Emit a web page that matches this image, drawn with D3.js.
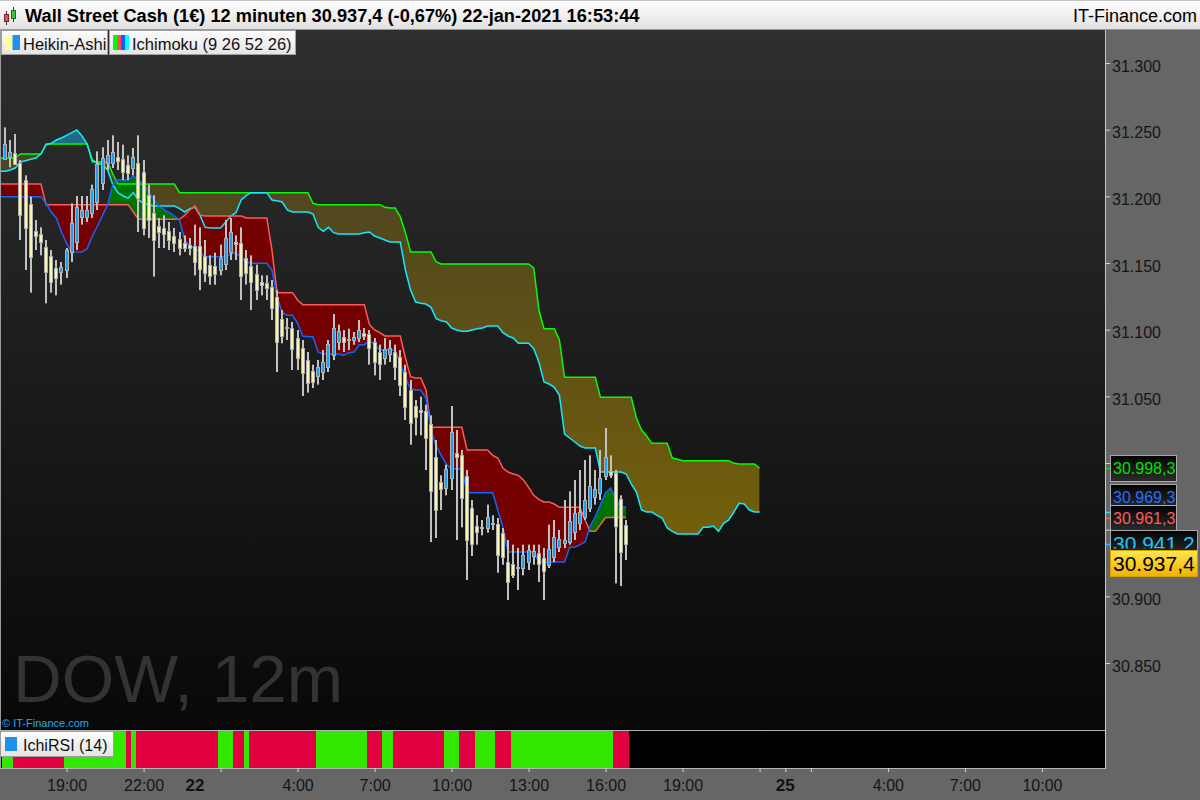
<!DOCTYPE html>
<html><head><meta charset="utf-8">
<script src="https://cdnjs.cloudflare.com/ajax/libs/d3/7.8.5/d3.min.js"></script>
<style>
body{margin:0;background:#fff;overflow:hidden}
svg{display:block;font-family:"Liberation Sans",Arial,sans-serif}
</style>
</head><body>
<svg id="c" width="1200" height="800"></svg>
<script>
// ---------------- DATA ----------------
const haOpen = [31230,31232,31235,31227,31214.5,31196.5,31176,31174,31164,31157.5,
 31148.5,31145,31147,31160,31168,31187,31187,31190,31198,31212,
 31227,31227,31232,31230,31226,31223.5,31227,31220.5,31203,31190,
 31180,31178.5,31176,31172.5,31170,31167,31166,31165,31165,31157.5,
 31151,31150,31147,31151.5,31160.5,31168,31167,31156,31150,31144,
 31138,31137,31134,31127,31110,31104,31103.5,31096,31088.5,31079.5,
 31071,31067,31070.5,31074,31083,31093,31097,31095,31095,31096,
 31100,31099,31093,31085.5,31081,31084,31085.5,31082,31070.5,31057,
 31045,31042,31041,31031.5,31007,30988,30984,30991,31010,31008,
 30992.5,30968.5,30955,30953,30953.5,30957,30956.5,30950,30928,30926.5,
 30923,30923.5,30928,30932,30935,30931,30926,30932,30939,30942,
 30943,30950.5,30957,30962,30968.5,30977,30980,30992.5,30996,30995,
 30975,30956];
const haHigh = [31254,31244.5,31249,31229.5,31218,31202,31184.5,31179,31169.5,31162,
 31154.5,31153,31163.5,31197,31202.5,31202.5,31202.5,31211,31236,31239,
 31244.5,31248,31243,31241,31233,31238.5,31248,31229.5,31211,31203,
 31186,31188,31183,31178.5,31175.5,31173,31171,31181,31179,31169.5,
 31158,31160,31166,31184.5,31186,31173,31179,31162,31158,31151,
 31143,31143,31139.5,31132,31117,31111,31108,31102,31094.5,31085.5,
 31076,31079.5,31087,31094.5,31114,31106,31102,31103,31100.5,31109.5,
 31103.5,31102,31096,31091,31096,31094.5,31091,31087,31076,31064.5,
 31049.5,31052,31046,31038,31019.5,30993,31001,31045,31027,31012,
 30997,30974.5,30963,30959.5,30971,30963,30961,30953.5,30944.5,30941,
 30938.5,30941,30941,30941,30941,30938.5,30956,30959.5,30952,30974.5,
 30981,30989.5,30997,31004.5,31008,30997,31012,31028.5,31008,30997,
 30978,30959.5];
const haLow = [31229.5,31224,31226,31169.5,31147,31130,31162,31158,31122,31130,
 31128,31136,31141,31153,31162,31181,31183,31186,31192,31207,
 31222,31223.5,31222,31214.5,31214.5,31218,31175.5,31173,31171,31142,
 31163.5,31163.5,31162,31160.5,31158,31160.5,31158,31143,31132,31138,
 31136,31136,31143,31147,31154.5,31154.5,31124.5,31136,31117,31124.5,
 31128,31124.5,31109.5,31070.5,31092,31094.5,31072,31072,31052.5,31055,
 31058.5,31061,31064.5,31070.5,31079.5,31087,31085.5,31087,31091,31093,
 31094.5,31076,31068,31064.5,31076,31078,31064.5,31052.5,31034.5,31016,
 31023,31023,30997,30943,30946,30967,30978,30982,30944.5,30954,
 30914.5,30932.5,30941,30948,30950,30952,30920,30926,30899.5,30916,
 30907,30918,30922,30926,30913,30899.5,30923.5,30928,30935.5,30938.5,
 30941,30944.5,30952,30959.5,30965.5,30971,30974.5,30989.5,30991,30912,
 30910,30929.5];
const haClose = [31241.5,31235.5,31227,31188,31178.5,31157,31172,31168,31145,31138,
 31141,31149,31162,31182,31194,31192,31192,31208,31226.5,31231,
 31233,31235.5,31229,31220.5,31220,31232,31201,31178.5,31184.5,31169.5,
 31175.5,31174,31169,31167,31163.5,31163,31163.5,31153,31148,31145,
 31143,31144,31156,31171,31175.5,31166.5,31142.5,31145,31138,31132,
 31136,31133.5,31118.5,31093,31097,31103,31088,31081,31070,31062,
 31063,31074,31078,31091.5,31103.5,31101,31093,31094,31097,31102,
 31098,31088.5,31078,31076.5,31088,31088.5,31074,31061,31044,31032,
 31037,31040.5,31021,30981,30967,30983,30998,31025.5,31007,30976,
 30944.5,30941.5,30950.5,30954,30962,30956,30933,30932,30913,30918,
 30924,30933,30937,30936,30927,30921,30938,30947,30945,30944.5,
 30959,30965,30965.5,30974.5,30985,30983,30991,31007,30993,30955,
 30935,30941.5];

const tenkan = [31202,31202,31202,31202,31202,31202,31202,31202,31197,31190.5,
 31186,31175.5,31167,31160.5,31160.5,31160.5,31163,31172.5,31180,31188,
 31196,31211,31214.5,31214.5,31214.5,31217.5,31214.5,31211,31205.5,31199.5,
 31195,31192,31190,31187.5,31184.5,31169.5,31165,31163.5,31160,31157,
 31157,31157,31157,31157,31159,31160,31156,31153,31152,31152,
 31152,31152,31147,31127,31115,31113,31113,31107,31097.5,31097,
 31097,31085.5,31084,31084,31084,31084,31083,31085,31085.5,31091,
 31091,31094,31091,31087,31087,31087,31087,31077,31066,31058,
 31057,31057,31051,31027,31015,31008,31001,30998,30998,30998,
 30980,30980,30980,30980,30980,30980,30967,30954,30935.5,30935.5,
 30935.5,30935.5,30935.5,30935.5,30928,30928,30928,30928,30928,30928,
 30939,30939,30941,30943,30955,30962,30971,30980,30983.5,30974.5,
 30969.3,30969.3];
const kijun = [31211.5,31211.5,31211.5,31211.5,31211.5,31211.5,31211.5,31211.5,31196,31196,
 31196,31196,31196,31196,31196,31196,31196,31196,31196,31196,
 31196,31196,31196,31196,31196,31190.5,31185,31185,31185,31185,
 31185,31185,31185,31185,31185,31188,31192,31195,31188,31187.5,
 31187.5,31187.5,31187.5,31187.5,31187.5,31187.5,31187.5,31186,31186,31186,
 31186,31186,31162,31130,31130,31130,31130,31124.5,31121,31121,
 31121,31121,31121,31121,31121,31121,31121,31121,31121,31121,
 31121,31106,31102,31100,31097.5,31097.5,31097.5,31097.5,31081,31067,
 31066,31066,31057,31029,31029,31029,31029,31029,31029,31029,
 31012,31012,31012,31012,31012,31008,31006,30998.5,30995.5,30994,
 30993,30989.5,30984,30978,30975,30973,30973,30971.5,30969,30969,
 30969,30969,30969,30959.5,30951,30951,30956,30961.3,30961.3,30961.3,
 30961.3,30961.3];
const senkouB = [31231,31231,31231,31234,31234,31234,31234,31234,31241.5,31241.5,
 31241.5,31241.5,31241.5,31241.5,31241.5,31241.5,31241.5,31228,31228,31228,
 31228,31219,31211.5,31211.5,31211.5,31211.5,31211.5,31211.5,31211.5,31211.5,
 31211.5,31211.5,31211.5,31211.5,31205,31205,31205,31205,31205,31205,
 31205,31205,31205,31205,31205,31205,31205,31205,31205,31205,
 31205,31205,31205,31205,31205,31205,31205,31205,31205,31205,
 31197,31196,31196,31196,31196,31196,31196,31196,31196,31196,
 31196,31196,31196,31196,31194,31193.5,31193.5,31187,31175,31160.5,
 31160.5,31160.5,31160.5,31160.5,31153,31151.5,31151.5,31151.5,31151.5,31151.5,
 31151.5,31151.5,31151.5,31151.5,31151.5,31151.5,31151.5,31151.5,31151.5,31151.5,
 31151.5,31151.5,31151.5,31148.5,31117,31103,31103,31103,31094.5,31066.5,
 31066.5,31066.5,31066.5,31066.5,31066.5,31066.5,31051.5,31051.5,31051.5,31051.5,
 31051.5,31051.5,31051.5,31036,31027,31022.5,31017,31017,31017,31017,
 31006,31005,31004,31004,31004,31004,31004,31004,31004,31004,
 31004,31004,31002,31001.5,31001.5,31001.5,31001.5,30998.3];
const senkouA = [31221,31222,31223.5,31228,31229,31230,31231,31234,31241,31242,
 31244.5,31246,31248,31250,31252,31247.5,31241.5,31229.5,31227,31226,
 31222,31211,31205,31202.5,31201,31205,31199.5,31197,31196,31195,
 31195,31195,31195,31195,31193,31190.5,31193,31194,31188,31179,
 31178.5,31178.5,31178.5,31183,31187.5,31190,31199.5,31203,31205,31205,
 31205,31205,31199.5,31199,31198,31192,31190.5,31190.5,31190.5,31190.5,
 31189,31179,31176,31179,31175,31174,31174,31174,31174,31174,
 31175,31175.5,31172.5,31171,31169.5,31168,31168,31168,31147,31132,
 31123,31122,31121.5,31119,31110.5,31109,31108,31103.5,31102,31101,
 31101,31102,31103,31103.5,31105,31105,31105,31100,31097.5,31096,
 31092,31092,31092,31088,31078,31063,31061.5,31059,31053,31024,
 31021,31018,31015,31013.5,31013.5,31013.5,30995.5,30995.5,30995.5,30995.5,
 30995.5,30994,30986.5,30980.5,30967,30965.5,30965.5,30963,30961,30953.5,
 30951,30949,30949,30949,30949,30949,30954,30954,30955,30951,
 30957,30959.5,30965.5,30972,30971.5,30967,30965.5,30965.5];

// IchiRSI state per bar: U = bullish (green), D = bearish (red)
const rsiState = ("UU DDDDDDDDDD UUUUUUUUUUUU D U DDDDDDDDDDDDDDDD UUU DD U " +
  "DDDDDDDDDDDDD UUUUUUUUUU DDD UU DDDDDDDDDD UUU DDD UUUU DDD " +
  "UUUUUUUUUUUUUUUUUUUU DDD").replace(/ /g, "").split("");

const priceTicks = [31300, 31250, 31200, 31150, 31100, 31050, 31000, 30950, 30900, 30850];
const hiddenPriceLabels = [31000, 30950]; // covered by the price tags in the original
const timeTickIdx = [12, 27, 42, 57, 72, 87, 102, 117, 132, 147, 152, 157, 172, 187, 202];
const timeLabelIdx = [12, 27, 57, 72, 87, 102, 117, 132, 172, 187, 202];
const timeLabelText = ["19:00", "22:00", "4:00", "7:00", "10:00", "13:00", "16:00", "19:00", "4:00", "7:00", "10:00"];
const dayLabelIdx = [37, 152];
const dayLabelText = ["22", "25"];

const tagValues = [30998.3, 30969.3, 30961.3, 30941.2, 30937.4];
const tagTexts = ["30.998,3", "30.969,3", "30.961,3", "30.941,2", "30.937,4"];
const tagColors = ["#00e000", "#2a6cff", "#ff5b5b", "#18c8ff", "#000000"];

const titleText = "Wall Street Cash (1€) 12 minuten 30.937,4 (-0,67%) 22-jan-2021 16:53:44";

// ---------------- SCALES ----------------
const x = d3.scaleLinear().domain([0, 147]).range([5, 759.6]);
const y = d3.scaleLinear().domain([30850, 31300]).range([666, 66]);
const bw = x(1) - x(0);

const svg = d3.select("#c");
const defs = svg.append("defs");
function vgrad(id, y1, y2, c1, c2, bbox) {
  const g = defs.append("linearGradient").attr("id", id)
    .attr("x1", 0).attr("x2", 0).attr("y1", y1).attr("y2", y2);
  if (!bbox) g.attr("gradientUnits", "userSpaceOnUse");
  g.append("stop").attr("offset", 0).attr("stop-color", c1);
  g.append("stop").attr("offset", 1).attr("stop-color", c2);
}
vgrad("bgGrad", 30, 730, "#2f2f2f", "#080808");
vgrad("hdrGrad", 0, 30, "#ffffff", "#e0e0e0");
vgrad("kumoGrad", 130, 540, "#4b4222", "#735f0b");
vgrad("legGrad", 0, 1, "#fdfdfd", "#e4e4e4", true);
vgrad("tagGrad", 0, 1, "#040404", "#2c2c2c", true);
vgrad("goldGrad", 0, 1, "#ffe650", "#f0b000", true);

defs.append("clipPath").attr("id", "plotClip").append("rect")
  .attr("x", 0).attr("y", 30).attr("width", 1105).attr("height", 700);

// series -> points, with the first value carried to the left plot edge
const pts = arr => [[0, arr[0]]].concat(arr.map((v, i) => [x(i), v]));
function aboveClip(id, arr) {
  const a = d3.area().x(d => d[0]).y0(30).y1(d => y(d[1]));
  defs.append("clipPath").attr("id", id).append("path").attr("d", a(pts(arr)));
}
aboveClip("abvA", senkouA);
aboveClip("abvB", senkouB);
aboveClip("abvT", tenkan);
aboveClip("abvK", kijun);
const toBottom = d3.area().x(d => d[0]).y0(d => y(d[1])).y1(730);
const line = d3.line().x(d => d[0]).y(d => y(d[1]));

// ---------------- LAYOUT BACKGROUNDS ----------------
svg.append("rect").attr("width", 1200).attr("height", 800).attr("fill", "#666");
svg.append("rect").attr("x", 0).attr("y", 30).attr("width", 1105).attr("height", 700).attr("fill", "url(#bgGrad)");

// header
svg.append("rect").attr("x", 0).attr("y", 0).attr("width", 1200).attr("height", 30).attr("fill", "url(#hdrGrad)");
svg.append("line").attr("x1", 0).attr("x2", 1200).attr("y1", 29.5).attr("y2", 29.5).attr("stroke", "#9a9a9a");
svg.append("line").attr("x1", 0).attr("x2", 1200).attr("y1", 0.5).attr("y2", 0.5).attr("stroke", "#c4c4c4");
const ic = svg.append("g");
ic.append("line").attr("x1", 6.5).attr("x2", 6.5).attr("y1", 11).attr("y2", 25).attr("stroke", "#333");
ic.append("rect").attr("x", 4.5).attr("y", 14.5).attr("width", 4).attr("height", 7).attr("fill", "#e25252").attr("stroke", "#7a2020");
ic.append("line").attr("x1", 13.5).attr("x2", 13.5).attr("y1", 7).attr("y2", 22).attr("stroke", "#333");
ic.append("rect").attr("x", 11.5).attr("y", 10.5).attr("width", 4).attr("height", 8).attr("fill", "#3cc83c").attr("stroke", "#1e6a1e");
const title = svg.append("text").attr("x", 25).attr("y", 22).attr("font-size", 18)
  .attr("font-weight", "bold").attr("fill", "#000").text(titleText);
const tl = title.node().getComputedTextLength();
if (tl > 0) title.attr("font-size", 18 * 615 / tl);
svg.append("text").attr("x", 1197).attr("y", 22).attr("text-anchor", "end")
  .attr("font-size", 18).attr("fill", "#000").text("IT-Finance.com");

// ---------------- MAIN PLOT ----------------
const g = svg.append("g").attr("clip-path", "url(#plotClip)");
g.append("text").attr("x", 13).attr("y", 702).attr("font-size", 67.5).attr("fill", "#333").text("DOW, 12m");

// kumo fills
g.append("path").attr("d", toBottom(pts(senkouB))).attr("fill", "url(#kumoGrad)").attr("clip-path", "url(#abvA)");
g.append("path").attr("d", toBottom(pts(senkouA))).attr("fill", "#1d6b84").attr("clip-path", "url(#abvB)");
// tenkan/kijun fills
g.append("path").attr("d", toBottom(pts(kijun))).attr("fill", "#740000").attr("clip-path", "url(#abvT)");
g.append("path").attr("d", toBottom(pts(tenkan))).attr("fill", "#007200").attr("clip-path", "url(#abvK)");

// lines
g.append("path").attr("d", line(pts(senkouB))).attr("fill", "none").attr("stroke", "#00ff00").attr("stroke-width", 1.5);
g.append("path").attr("d", line(pts(senkouA))).attr("fill", "none").attr("stroke", "#10eaff").attr("stroke-width", 1.5);
g.append("path").attr("d", line(pts(kijun))).attr("fill", "none").attr("stroke", "#ff5a5a").attr("stroke-width", 1.5);
g.append("path").attr("d", line(pts(tenkan))).attr("fill", "none").attr("stroke", "#1464ff").attr("stroke-width", 1.5);

// Heikin-Ashi candles
const bars = d3.range(haOpen.length);
g.append("g").selectAll("rect").data(bars).join("rect")
  .attr("x", i => Math.round(x(i)) - 1).attr("width", 2)
  .attr("y", i => y(haHigh[i])).attr("height", i => y(haLow[i]) - y(haHigh[i]))
  .attr("fill", "#c2c2c2");
g.append("g").selectAll("rect").data(bars).join("rect")
  .attr("x", i => Math.round(x(i)) - 1.5).attr("width", 3)
  .attr("y", i => Math.round(y(Math.max(haOpen[i], haClose[i]))) + 0.5)
  .attr("height", i => Math.max(1, Math.round(y(Math.min(haOpen[i], haClose[i])) - y(Math.max(haOpen[i], haClose[i])))))
  .attr("fill", i => haClose[i] >= haOpen[i] ? "#1ea0f2" : "#f8f4b4")
  .attr("stroke", "#b0b0b0").attr("stroke-width", 1);

// legends
function legendBox(x0, w, colors, label) {
  const lg = svg.append("g");
  lg.append("rect").attr("x", x0 + 0.5).attr("y", 30.5).attr("width", w).attr("height", 24)
    .attr("fill", "url(#legGrad)").attr("stroke", "#a0a0a0");
  const cw = colors.length === 2 ? 7.5 : 4;
  colors.forEach((c, k) => lg.append("rect").attr("x", x0 + 4 + k * cw).attr("y", 35)
    .attr("width", cw).attr("height", 15).attr("fill", c));
  lg.append("text").attr("x", x0 + 4 + colors.length * cw + 3).attr("y", 49.5)
    .attr("font-size", 16.5).attr("fill", "#111").text(label);
}
legendBox(1, 106, ["#ffff9c", "#1e90f0"], "Heikin-Ashi");
legendBox(109, 186, ["#00ff00", "#ff5050", "#1060ff", "#00ffff"], "Ichimoku (9 26 52 26)");

svg.append("text").attr("x", 2).attr("y", 727).attr("font-size", 11).attr("fill", "#22aaee").text("© IT-Finance.com");

// ---------------- RSI STRIP ----------------
svg.append("rect").attr("x", 0).attr("y", 730).attr("width", 1105).attr("height", 38).attr("fill", "#000");
const edge = i => Math.round(x(i) - bw / 2);
svg.append("g").attr("shape-rendering", "crispEdges").selectAll("rect").data(rsiState).join("rect")
  .attr("x", (d, i) => edge(i)).attr("width", (d, i) => edge(i + 1) - edge(i))
  .attr("y", 731).attr("height", 37)
  .attr("fill", d => d === "U" ? "#33e800" : "#e0003f");
const rl = svg.append("g");
rl.append("rect").attr("x", 0.5).attr("y", 731.5).attr("width", 113).attr("height", 25)
  .attr("fill", "url(#legGrad)").attr("stroke", "#a0a0a0");
rl.append("rect").attr("x", 5).attr("y", 737).attr("width", 12).attr("height", 14).attr("fill", "#1e90f0");
rl.append("text").attr("x", 23).attr("y", 751).attr("font-size", 16).attr("fill", "#111").text("IchiRSI (14)");

// separators
svg.append("line").attr("x1", 0).attr("x2", 1105).attr("y1", 730.5).attr("y2", 730.5).attr("stroke", "#b4b4b4");
svg.append("line").attr("x1", 0).attr("x2", 1105).attr("y1", 768.5).attr("y2", 768.5).attr("stroke", "#b4b4b4");
svg.append("line").attr("x1", 1105.5).attr("x2", 1105.5).attr("y1", 30).attr("y2", 769).attr("stroke", "#c8c8c8");
svg.append("line").attr("x1", 0.5).attr("x2", 0.5).attr("y1", 30).attr("y2", 769).attr("stroke", "#9a9a9a");

// ---------------- AXES ----------------
const yAxis = d3.axisRight(y).tickValues(priceTicks).tickSize(5).tickPadding(2)
  .tickFormat(v => d3.format(",")(v).replace(/,/g, "."));
const ay = svg.append("g").attr("transform", "translate(1105,0)").call(yAxis)
  .attr("font-size", 16).attr("font-family", "Liberation Sans, Arial, sans-serif");
ay.select(".domain").remove();
ay.selectAll("line").attr("stroke", "#d4d4d4").attr("transform", "translate(0,-3)");
ay.selectAll("text").attr("fill", "#151515");
ay.selectAll(".tick").filter(v => hiddenPriceLabels.includes(v)).select("text").remove();

const labelMap = new Map(timeLabelIdx.map((d, k) => [d, timeLabelText[k]]));
const xAxis = d3.axisBottom(x).tickValues(timeTickIdx).tickSize(4).tickPadding(7.5)
  .tickFormat(i => labelMap.get(i) || "");
const ax = svg.append("g").attr("transform", "translate(0,768)").call(xAxis)
  .attr("font-size", 16).attr("font-family", "Liberation Sans, Arial, sans-serif");
ax.select(".domain").remove();
ax.selectAll("line").attr("stroke", "#d4d4d4");
ax.selectAll("text").attr("fill", "#151515");
ax.selectAll(".tick").filter(i => !labelMap.has(i)).select("text").remove();
svg.append("g").selectAll("text").data(dayLabelIdx).join("text")
  .attr("x", d => x(d)).attr("y", 791).attr("text-anchor", "middle")
  .attr("font-size", 17).attr("font-weight", "bold").attr("fill", "#111")
  .text((d, k) => dayLabelText[k]);

// ---------------- PRICE TAGS ----------------
const tickMarks = [[tagValues[0], "#00e000"], [tagValues[1], "#2a6cff"], [senkouA[senkouA.length - 1], "#10eaff"],
  [tagValues[2], "#ff5b5b"], [tagValues[3], "#18c8ff"]];
svg.append("g").selectAll("line").data(tickMarks).join("line")
  .attr("x1", 1106).attr("x2", 1111).attr("y1", d => Math.round(y(d[0])) + 0.5).attr("y2", d => Math.round(y(d[0])) + 0.5)
  .attr("stroke", d => d[1]).attr("stroke-width", 1.5);
const nudge = [0, -10, 0, -1, 14];
const big = [false, false, false, true, true];
const tg = svg.append("g");
tagValues.forEach((v, k) => {
  const cy = y(v) + nudge[k];
  const w = big[k] ? 87 : 66;
  const top = Math.round(cy - 13) + 0.5;
  const cid = "tagClip" + k;
  defs.append("clipPath").attr("id", cid).append("rect")
    .attr("x", 1110).attr("y", top).attr("width", w + 1).attr("height", k === 3 ? 18 : (k === 1 ? 20 : 26));
  tg.append("rect").attr("x", 1110.5).attr("y", top).attr("width", w).attr("height", 26)
    .attr("fill", k === 4 ? "url(#goldGrad)" : "url(#tagGrad)").attr("stroke", k === 4 ? "#d9a000" : "#a8a8a8");
  tg.append("g").attr("clip-path", "url(#" + cid + ")").append("text")
    .attr("x", 1113).attr("y", cy + (big[k] ? 7.5 : 6))
    .attr("font-size", big[k] ? 21 : 16).attr("fill", tagColors[k]).text(tagTexts[k]);
});
</script>
</body></html>
